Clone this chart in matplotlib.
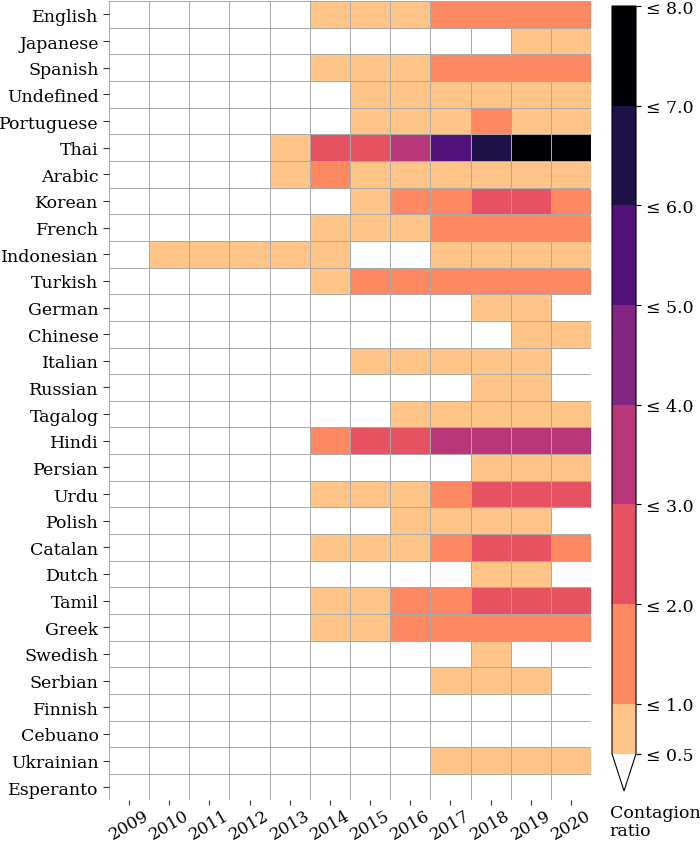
import numpy as np
import matplotlib
matplotlib.use("Agg")
import matplotlib.pyplot as plt
from matplotlib.colors import ListedColormap, BoundaryNorm

plt.rcParams["font.family"] = ["DejaVu Serif"]

years = [str(y) for y in range(2009, 2021)]
languages = [
    "English", "Japanese", "Spanish", "Undefined", "Portuguese", "Thai",
    "Arabic", "Korean", "French", "Indonesian", "Turkish", "German",
    "Chinese", "Italian", "Russian", "Tagalog", "Hindi", "Persian", "Urdu",
    "Polish", "Catalan", "Dutch", "Tamil", "Greek", "Swedish", "Serbian",
    "Finnish", "Cebuano", "Ukrainian", "Esperanto",
]

# contagion ratio per language (rows) and year (columns), estimated per bin
english = [0, 0, 0, 0, 0, .8, .8, .8, 1.5, 1.5, 1.5, 1.5]
japanese = [0, 0, 0, 0, 0, 0, 0, 0, 0, 0, .8, .8]
spanish = [0, 0, 0, 0, 0, .8, .8, .8, 1.5, 1.5, 1.5, 1.5]
undefined = [0, 0, 0, 0, 0, 0, .8, .8, .8, .8, .8, .8]
portuguese = [0, 0, 0, 0, 0, 0, .8, .8, .8, 1.5, .8, .8]
thai = [0, 0, 0, 0, .8, 2.5, 2.5, 3.5, 5.5, 6.5, 7.5, 7.5]
arabic = [0, 0, 0, 0, .8, 1.5, .8, .8, .8, .8, .8, .8]
korean = [0, 0, 0, 0, 0, 0, .8, 1.5, 1.5, 2.5, 2.5, 1.5]
french = [0, 0, 0, 0, 0, .8, .8, .8, 1.5, 1.5, 1.5, 1.5]
indonesian = [0, .8, .8, .8, .8, .8, 0, 0, .8, .8, .8, .8]
turkish = [0, 0, 0, 0, 0, .8, 1.5, 1.5, 1.5, 1.5, 1.5, 1.5]
german = [0, 0, 0, 0, 0, 0, 0, 0, 0, .8, .8, 0]
chinese = [0, 0, 0, 0, 0, 0, 0, 0, 0, 0, .8, .8]
italian = [0, 0, 0, 0, 0, 0, .8, .8, .8, .8, .8, 0]
russian = [0, 0, 0, 0, 0, 0, 0, 0, 0, .8, .8, 0]
tagalog = [0, 0, 0, 0, 0, 0, 0, .8, .8, .8, .8, .8]
hindi = [0, 0, 0, 0, 0, 1.5, 2.5, 2.5, 3.5, 3.5, 3.5, 3.5]
persian = [0, 0, 0, 0, 0, 0, 0, 0, 0, .8, .8, .8]
urdu = [0, 0, 0, 0, 0, .8, .8, .8, 1.5, 2.5, 2.5, 2.5]
polish = [0, 0, 0, 0, 0, 0, 0, .8, .8, .8, .8, 0]
catalan = [0, 0, 0, 0, 0, .8, .8, .8, 1.5, 2.5, 2.5, 1.5]
dutch = [0, 0, 0, 0, 0, 0, 0, 0, 0, .8, .8, 0]
tamil = [0, 0, 0, 0, 0, .8, .8, 1.5, 1.5, 2.5, 2.5, 2.5]
greek = [0, 0, 0, 0, 0, .8, .8, 1.5, 1.5, 1.5, 1.5, 1.5]
swedish = [0, 0, 0, 0, 0, 0, 0, 0, 0, .8, 0, 0]
serbian = [0, 0, 0, 0, 0, 0, 0, 0, .8, .8, .8, 0]
finnish = [0] * 12
cebuano = [0] * 12
ukrainian = [0, 0, 0, 0, 0, 0, 0, 0, .8, .8, .8, .8]
esperanto = [0] * 12

rows = [english, japanese, spanish, undefined, portuguese, thai, arabic,
        korean, french, indonesian, turkish, german, chinese, italian,
        russian, tagalog, hindi, persian, urdu, polish, catalan, dutch,
        tamil, greek, swedish, serbian, finnish, cebuano, ukrainian,
        esperanto]
values = np.array(rows, dtype=float)

bounds = [0.5, 1, 2, 3, 4, 5, 6, 7, 8]

# discrete magma: lightest bin first, black last
magma = plt.get_cmap("magma")
cmap = ListedColormap([magma(k / 8) for k in range(7, -1, -1)])
cmap.set_under("white")
norm = BoundaryNorm(bounds, cmap.N)

fig = plt.figure(figsize=(7, 8.45), dpi=100)
ax = fig.add_axes([0.1557, 0.0515, 0.6886, 0.946])
cax = fig.add_axes([0.8743, 0.0627, 0.0343, 0.929])

mesh = ax.pcolormesh(values, cmap=cmap, norm=norm,
                     edgecolors="#a9a9a9", linewidth=0.7)
ax.set_xlim(0, len(years))
ax.set_ylim(len(languages), 0)
ax.set_xticks(np.arange(len(years)) + 0.5)
ax.set_xticklabels(years, rotation=30, ha="center", fontsize=12.2)
ax.set_yticks(np.arange(len(languages)) + 0.5)
ax.set_yticklabels(languages, fontsize=12.5)
ax.tick_params(color="#333333", length=4)
ax.tick_params(axis="x", length=3.5, pad=0.5)
for s in ax.spines.values():
    s.set_visible(False)

cbar = fig.colorbar(mesh, cax=cax, extend="min", spacing="proportional",
                    ticks=bounds)
cbar.ax.set_yticklabels([f"≤ {b:.1f}" for b in bounds], fontsize=12.5)
cbar.outline.set_linewidth(0.8)
fig.text(0.871, 1 - 805 / 845, "Contagion\nratio", ha="left", va="top",
         fontsize=12.5, linespacing=1.05)

fig.savefig("out.png", dpi=100)
